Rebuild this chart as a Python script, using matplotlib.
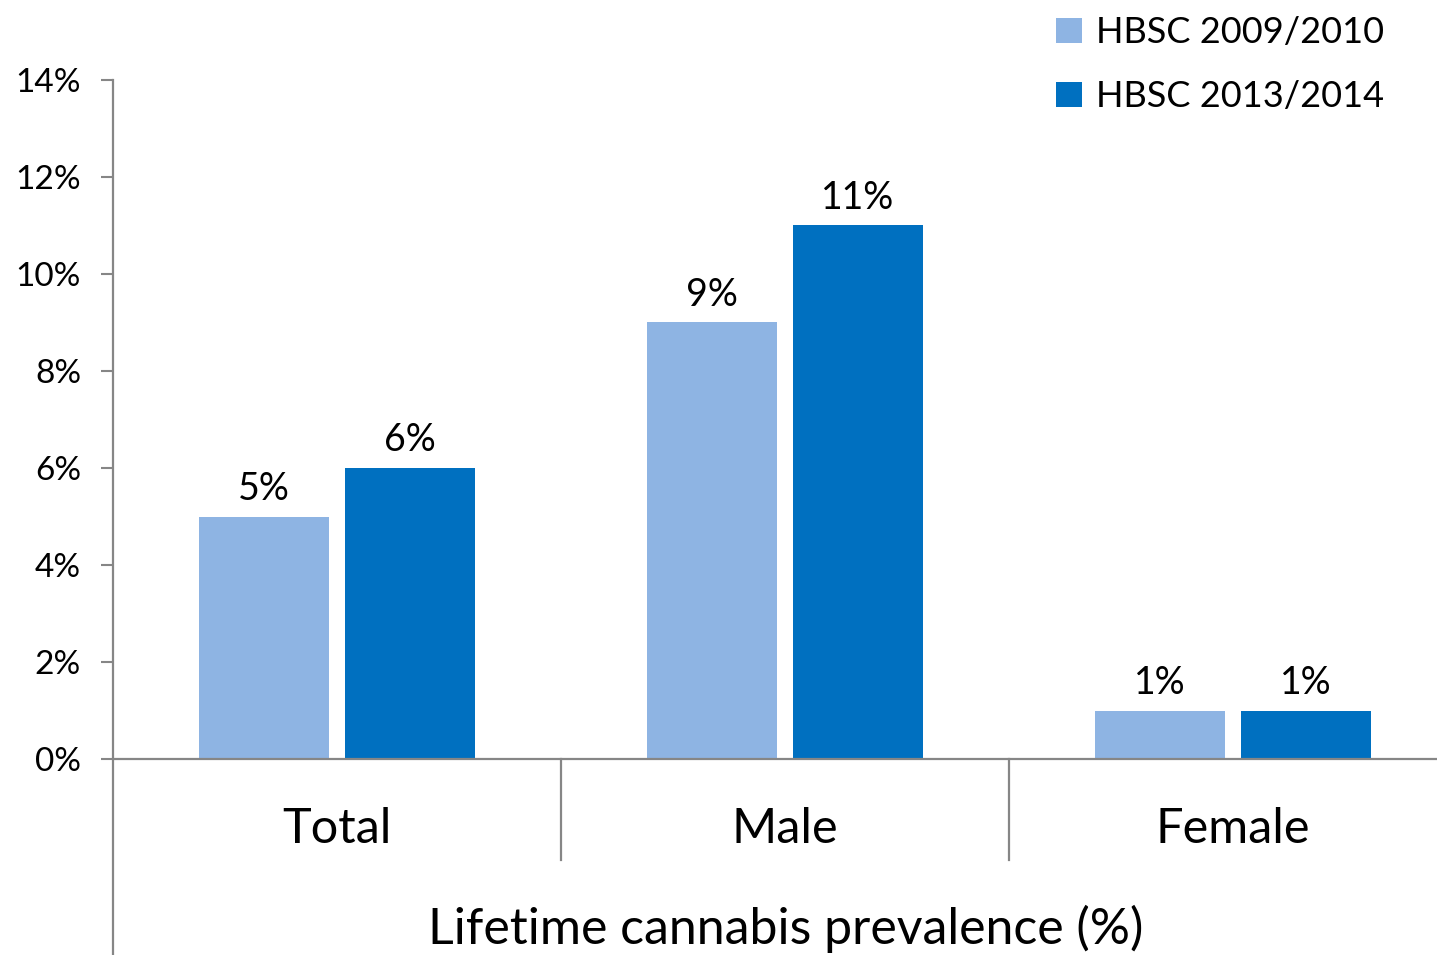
import matplotlib
matplotlib.use("Agg")
import matplotlib.pyplot as plt
import numpy as np

plt.rcParams["font.family"] = ["Lato", "DejaVu Sans"]

categories = ["Total", "Male", "Female"]
series_names = ["HBSC 2009/2010", "HBSC 2013/2014"]
values_2010 = [5, 9, 1]
values_2014 = [6, 11, 1]
y_ticks = [0, 2, 4, 6, 8, 10, 12, 14]
axis_title = "Lifetime cannabis prevalence (%)"

LIGHT = "#8EB4E3"
DARK = "#0070C0"
GRID_GRAY = "#868686"

W, H = 1437, 955
fig = plt.figure(figsize=(W / 100, H / 100), dpi=100)
# plot area runs past the right edge like the original
ax = fig.add_axes([113 / W, 1 - 759 / H, 1344 / W, (759 - 80) / H])

x = np.arange(len(categories))
offset = 0.163
width = 0.292
b1 = ax.bar(x - offset, values_2010, width, color=LIGHT, label=series_names[0], zorder=2)
b2 = ax.bar(x + offset, values_2014, width, color=DARK, label=series_names[1], zorder=2)

for bars, vals in [(b1, values_2010), (b2, values_2014)]:
    for rect, v in zip(bars, vals):
        ax.annotate(f"{v}%", (rect.get_x() + rect.get_width() / 2, v),
                    xytext=(0, 7), textcoords="offset points",
                    ha="center", va="bottom", fontsize=27)

ax.set_xlim(-0.5, 2.5)
ax.set_ylim(0, 14)
ax.set_yticks(y_ticks)
ax.set_yticklabels([f"{t}%" for t in y_ticks], fontsize=24)
ax.tick_params(axis="y", length=9, width=1.5, color=GRID_GRAY, pad=14)
ax.set_xticks([])

for s in ["top", "right", "bottom", "left"]:
    ax.spines[s].set_visible(False)

# axis lines in the Excel multi-level style
line_kw = dict(color=GRID_GRAY, lw=1.6, clip_on=False, transform=ax.transAxes)
ax.plot([0, 0], [1, -196 / 679], **line_kw)
ax.plot([0, 1], [0, 0], **line_kw)
for sep in [1 / 3, 2 / 3]:
    ax.plot([sep, sep], [0, -101 / 679], **line_kw)

for i, cat in enumerate(categories):
    ax.text(x[i], -1.45, cat, ha="center", va="center", fontsize=35)

fig.text(786 / W, 1 - 929 / H, axis_title, ha="center", va="center", fontsize=36)

leg = fig.legend(loc="upper left", bbox_to_anchor=(1040 / W, 1.0), frameon=False,
                 fontsize=26, handlelength=0.7, handleheight=0.7, handletextpad=0.4,
                 labelspacing=0.85, borderaxespad=0.05)

fig.savefig("out.png", dpi=100)
